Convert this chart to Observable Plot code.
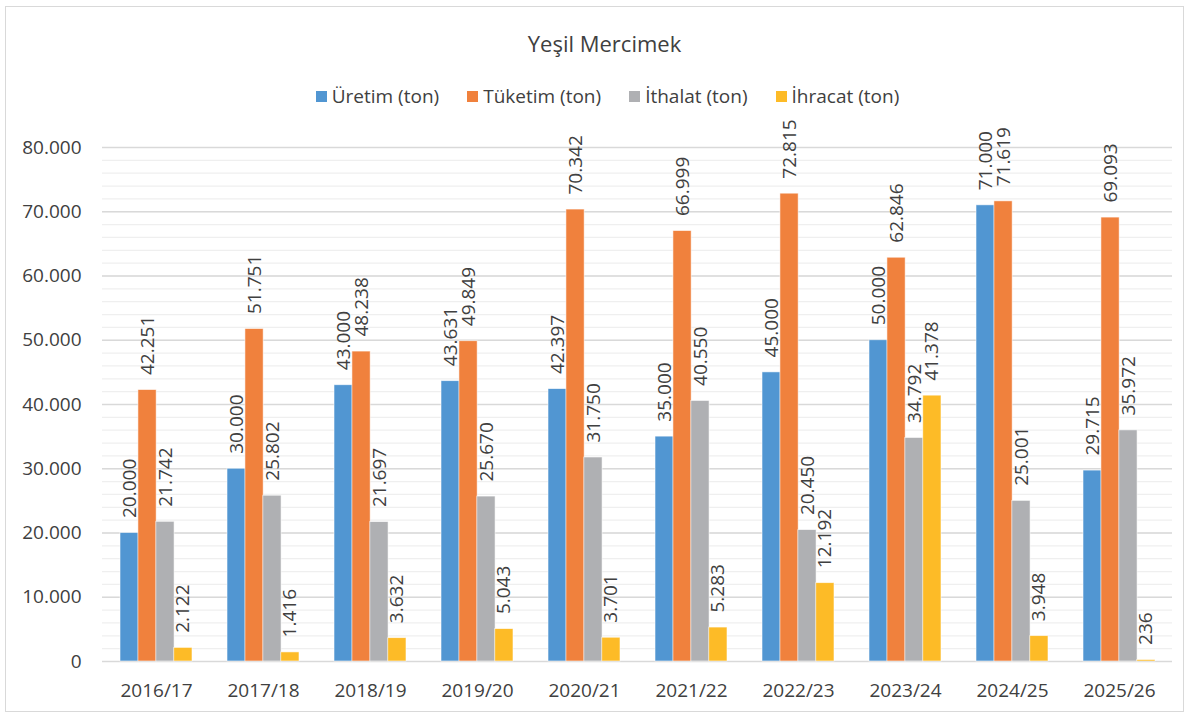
<!DOCTYPE html>
<html><head><meta charset="utf-8">
<script src="https://cdn.jsdelivr.net/npm/d3@7"></script>
<script src="https://cdn.jsdelivr.net/npm/@observablehq/plot@0.6"></script>
<style>
body{margin:0;background:#fff;font-family:"Open Sans",sans-serif;}
#frame{position:absolute;left:5px;top:6px;width:1179px;height:706px;border:1.5px solid #d9d9d9;box-sizing:border-box}
#title{position:absolute;left:10px;width:1189px;top:28px;text-align:center;font-size:22px;color:#404040;}
#legend{position:absolute;left:13px;width:1189px;top:81px}
#legend .lg-swatches{justify-content:center !important;font-family:"Open Sans",sans-serif;font-size:19px;color:#404040;min-height:30px}
#legend .lg-swatch{margin-right:28px !important}
#legend .lg-swatch:last-child{margin-right:0 !important}
#legend .lg-swatch svg{margin-right:5px !important}
#chart{position:absolute;left:0;top:115px}
</style>
</head><body>
<div id="frame"></div>
<div id="title">Yeşil Mercimek</div>
<div id="legend"></div>
<div id="chart"></div>
<script>
const years = ["2016/17","2017/18","2018/19","2019/20","2020/21","2021/22","2022/23","2023/24","2024/25","2025/26"];
const uretim  = [20000,30000,43000,43631,42397,35000,45000,50000,71000,29715];
const tuketim = [42251,51751,48238,49849,70342,66999,72815,62846,71619,69093];
const ithalat = [21742,25802,21697,25670,31750,40550,20450,34792,25001,35972];
const ihracat = [2122,1416,3632,5043,3701,5283,12192,41378,3948,236];
const seriesNames = ["Üretim (ton)","Tüketim (ton)","İthalat (ton)","İhracat (ton)"];
const seriesColors = ["#5196d2","#f0813d","#afb0b3","#fdbb27"];
const yTicks = [0,10000,20000,30000,40000,50000,60000,70000,80000];

const loc = d3.formatLocale({decimal:",", thousands:".", grouping:[3], currency:["","₺"]});
const fmt = loc.format(",d");

const rows = years.map((y, j) => ({year: y, v0: uretim[j], v1: tuketim[j], v2: ithalat[j], v3: ihracat[j]}));

const W = 1189, H = 590, ML = 102, MR = 17, MT = 32, MB = 44;
const PI = 0.33, PO = PI / 2;
const bw = (W - ML - MR) / years.length * (1 - PI) / 4;
const minorGrid = d3.range(0, 80001, 2000);

const marks = [
  Plot.ruleY(minorGrid, {stroke: "#efefef", strokeWidth: 1.2}),
  Plot.ruleY(yTicks, {stroke: "#d9d9d9", strokeWidth: 1.5})
];
seriesNames.forEach((name, i) => {
  const key = "v" + i;
  marks.push(Plot.barY(rows, {x: "year", y: key, fill: seriesColors[i], stroke: "#ffffff", strokeWidth: 0.8, strokeOpacity: 0.7,
    insetLeft: i * bw, insetRight: (3 - i) * bw}));
});
seriesNames.forEach((name, i) => {
  const key = "v" + i;
  marks.push(Plot.text(rows, {x: "year", y: key, text: d => fmt(d[key]), rotate: -90, textAnchor: "start",
    dx: (i - 1.5) * bw, dy: -15, fontSize: 19, fill: "#404040"}));
});

const chart = Plot.plot({
  width: W, height: H,
  marginLeft: ML, marginRight: MR, marginTop: MT, marginBottom: MB,
  style: {fontFamily: "Open Sans, sans-serif", fontSize: "19px", color: "#404040", background: "transparent"},
  x: {domain: years, paddingInner: PI, paddingOuter: PO, tickSize: 0, tickPadding: 22, label: null},
  y: {domain: [0, 80000], ticks: yTicks, tickFormat: fmt, tickSize: 0, tickPadding: 21, label: null},
  marks
});
document.getElementById("chart").appendChild(chart);

const lg = Plot.legend({color: {type: "ordinal", domain: seriesNames, range: seriesColors}, className: "lg", swatchSize: 11});
document.getElementById("legend").appendChild(lg);
</script>
</body></html>
